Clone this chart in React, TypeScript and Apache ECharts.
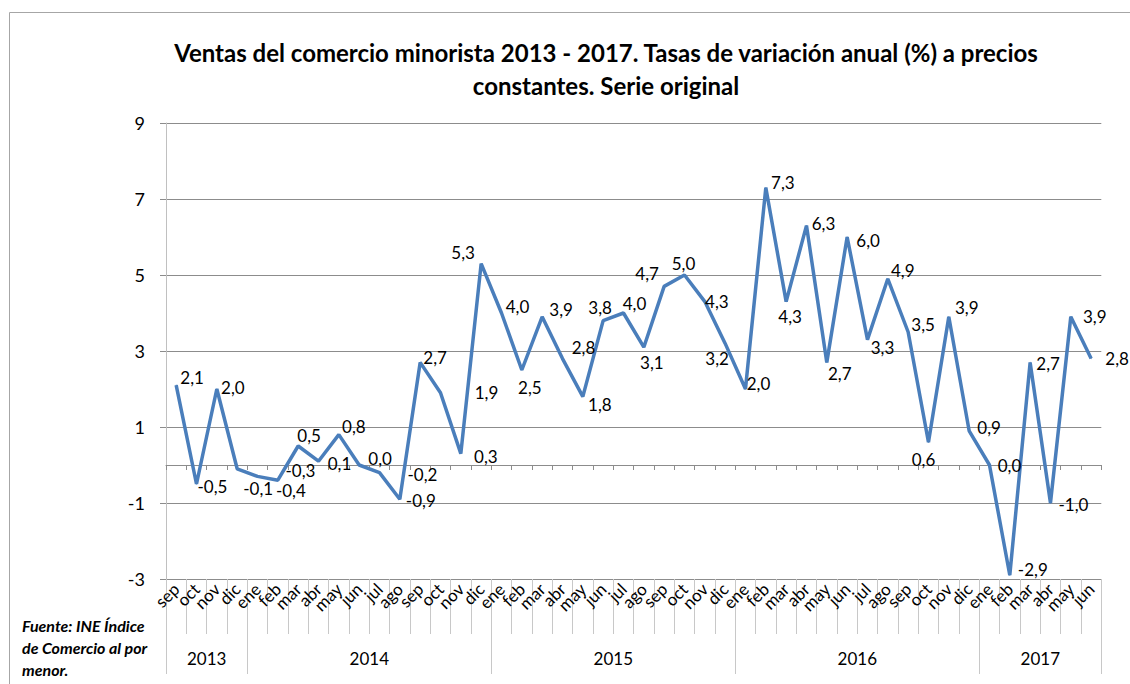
import React, { useEffect, useRef } from "react";
import * as echarts from "echarts";

const months = [
  "sep", "oct", "nov", "dic",
  "ene", "feb", "mar", "abr", "may", "jun", "jul", "ago", "sep", "oct", "nov", "dic",
  "ene", "feb", "mar", "abr", "may", "jun", "jul", "ago", "sep", "oct", "nov", "dic",
  "ene", "feb", "mar", "abr", "may", "jun", "jul", "ago", "sep", "oct", "nov", "dic",
  "ene", "feb", "mar", "abr", "may", "jun",
];

const years = ["2013", "2014", "2015", "2016", "2017"];
const monthsPerYear = [4, 12, 12, 12, 6];

const values = [
  2.1, -0.5, 2.0, -0.1,
  -0.3, -0.4, 0.5, 0.1, 0.8, 0.0, -0.2, -0.9, 2.7, 1.9, 0.3, 5.3,
  4.0, 2.5, 3.9, 2.8, 1.8, 3.8, 4.0, 3.1, 4.7, 5.0, 4.3, 3.2,
  2.0, 7.3, 4.3, 6.3, 2.7, 6.0, 3.3, 4.9, 3.5, 0.6, 3.9, 0.9,
  0.0, -2.9, 2.7, -1.0, 3.9, 2.8,
];

const yTicks = [-3, -1, 1, 3, 5, 7, 9];

// label placement (offset of each value label from its point), style only
const labelOffsets = [
  [16, -8], [16, 2], [16, -2], [21, 20],
  [43, -6], [13, 10], [11, -11], [21, 2], [15, -8], [21, -7], [43, 2], [21, 1], [15, -5], [46, 0], [25, 3], [-18, -11],
  [16, -7], [8, 17], [19, -7], [21, -11], [17, 8], [-3, -13], [11, -10], [8, 15], [-17, -13], [-1, -12], [12, 0], [-8, 15],
  [13, -6], [17, -5], [4, 15], [17, -2], [13, 11], [21, 3], [15, 8], [15, -8], [15, -8], [-5, 17], [18, -9], [20, -3],
  [20, 0], [23, -6], [18, 1], [23, 1], [24, 0], [26, 0],
];

const TITLE =
  "Ventas del comercio minorista 2013 - 2017. Tasas de variación anual (%) a precios\nconstantes. Serie original";
const SOURCE = "Fuente: INE Índice\nde Comercio al por\nmenor.";

export default function App() {
  const ref = useRef<HTMLDivElement>(null);

  useEffect(() => {
    document.body.style.margin = "0";
    if (!ref.current) return;
    const chart = echarts.init(ref.current, undefined, { renderer: "svg" });

    const boundaries: number[] = [0];
    const centers: number[] = [];
    monthsPerYear.forEach((n) => {
      const start = boundaries[boundaries.length - 1];
      centers.push(start + n / 2);
      boundaries.push(start + n);
    });
    const total = boundaries[boundaries.length - 1];

    const font = "Lato";

    chart.setOption({
      animation: false,
      backgroundColor: "#ffffff",
      title: {
        text: TITLE,
        left: 601,
        top: 31,
        padding: 5,
        textAlign: "center",
        textStyle: {
          fontFamily: font,
          fontWeight: "bold",
          fontSize: 24,
          lineHeight: 33,
          color: "#000000",
        },
      },
      graphic: [
        {
          type: "rect",
          shape: { x: 9.5, y: 12.5, width: 1140, height: 700 },
          style: { fill: "none", stroke: "#a6a6a6", lineWidth: 1 },
          silent: true,
        },
        {
          type: "text",
          left: 22,
          top: 614,
          style: {
            text: SOURCE,
            font: "italic bold 16px Lato",
            lineHeight: 22,
            fill: "#000000",
          },
        },
      ],
      grid: { left: 166, right: 28.7, top: 123, bottom: 105, containLabel: false },
      xAxis: [
        {
          type: "category",
          data: months,
          position: "bottom",
          boundaryGap: true,
          axisLine: { onZero: true, lineStyle: { color: "#8c8c8c", width: 1 } },
          axisTick: { show: true, interval: 0, length: 5, lineStyle: { color: "#8c8c8c" } },
          axisLabel: { show: false },
          splitLine: { show: false },
        },
        {
          type: "category",
          data: months,
          position: "bottom",
          boundaryGap: true,
          axisLine: { onZero: false, show: true, lineStyle: { color: "#8c8c8c" } },
          axisTick: { show: true, interval: 0, length: 55, lineStyle: { color: "#c8c8c8" } },
          axisLabel: {
            interval: 0,
            rotate: 45,
            margin: 7,
            fontFamily: font,
            fontSize: 17,
            color: "#000000",
          },
          splitLine: { show: false },
        },
        {
          type: "value",
          min: 0,
          max: total,
          position: "bottom",
          axisLine: { show: false, onZero: false },
          axisTick: {
            show: true,
            customValues: boundaries,
            length: 95,
            lineStyle: { color: "#c8c8c8" },
          },
          axisLabel: {
            customValues: centers,
            margin: 71,
            fontFamily: font,
            fontSize: 17,
            color: "#000000",
            formatter: (v: number) => {
              const i = centers.indexOf(v);
              return i >= 0 ? years[i] : "";
            },
          },
          splitLine: { show: false },
        },
      ],
      yAxis: {
        type: "value",
        min: yTicks[0],
        max: yTicks[yTicks.length - 1],
        interval: yTicks[1] - yTicks[0],
        axisLine: { show: true, lineStyle: { color: "#c0c0c0" } },
        axisTick: { show: true, length: 6, lineStyle: { color: "#8c8c8c" } },
        axisLabel: {
          margin: 21,
          fontFamily: font,
          fontSize: 18,
          color: "#000000",
        },
        splitLine: { show: true, lineStyle: { color: "#8c8c8c", width: 1 } },
      },
      series: [
        {
          type: "line",
          xAxisIndex: 0,
          data: values.map((v, i) => ({
            value: v,
            label: { offset: labelOffsets[i] },
          })),
          symbol: "circle",
          symbolSize: 1,
          showSymbol: true,
          itemStyle: { color: "#4a7ebb" },
          lineStyle: { color: "#4a7ebb", width: 3.5 },
          label: {
            show: true,
            position: "inside",
            fontFamily: font,
            fontSize: 17,
            color: "#000000",
            formatter: (p: any) => Number(p.value).toFixed(1).replace(".", ","),
          },
          z: 5,
        },
      ],
    });

    return () => chart.dispose();
  }, []);

  return <div ref={ref} style={{ width: 1130, height: 684 }} />;
}
